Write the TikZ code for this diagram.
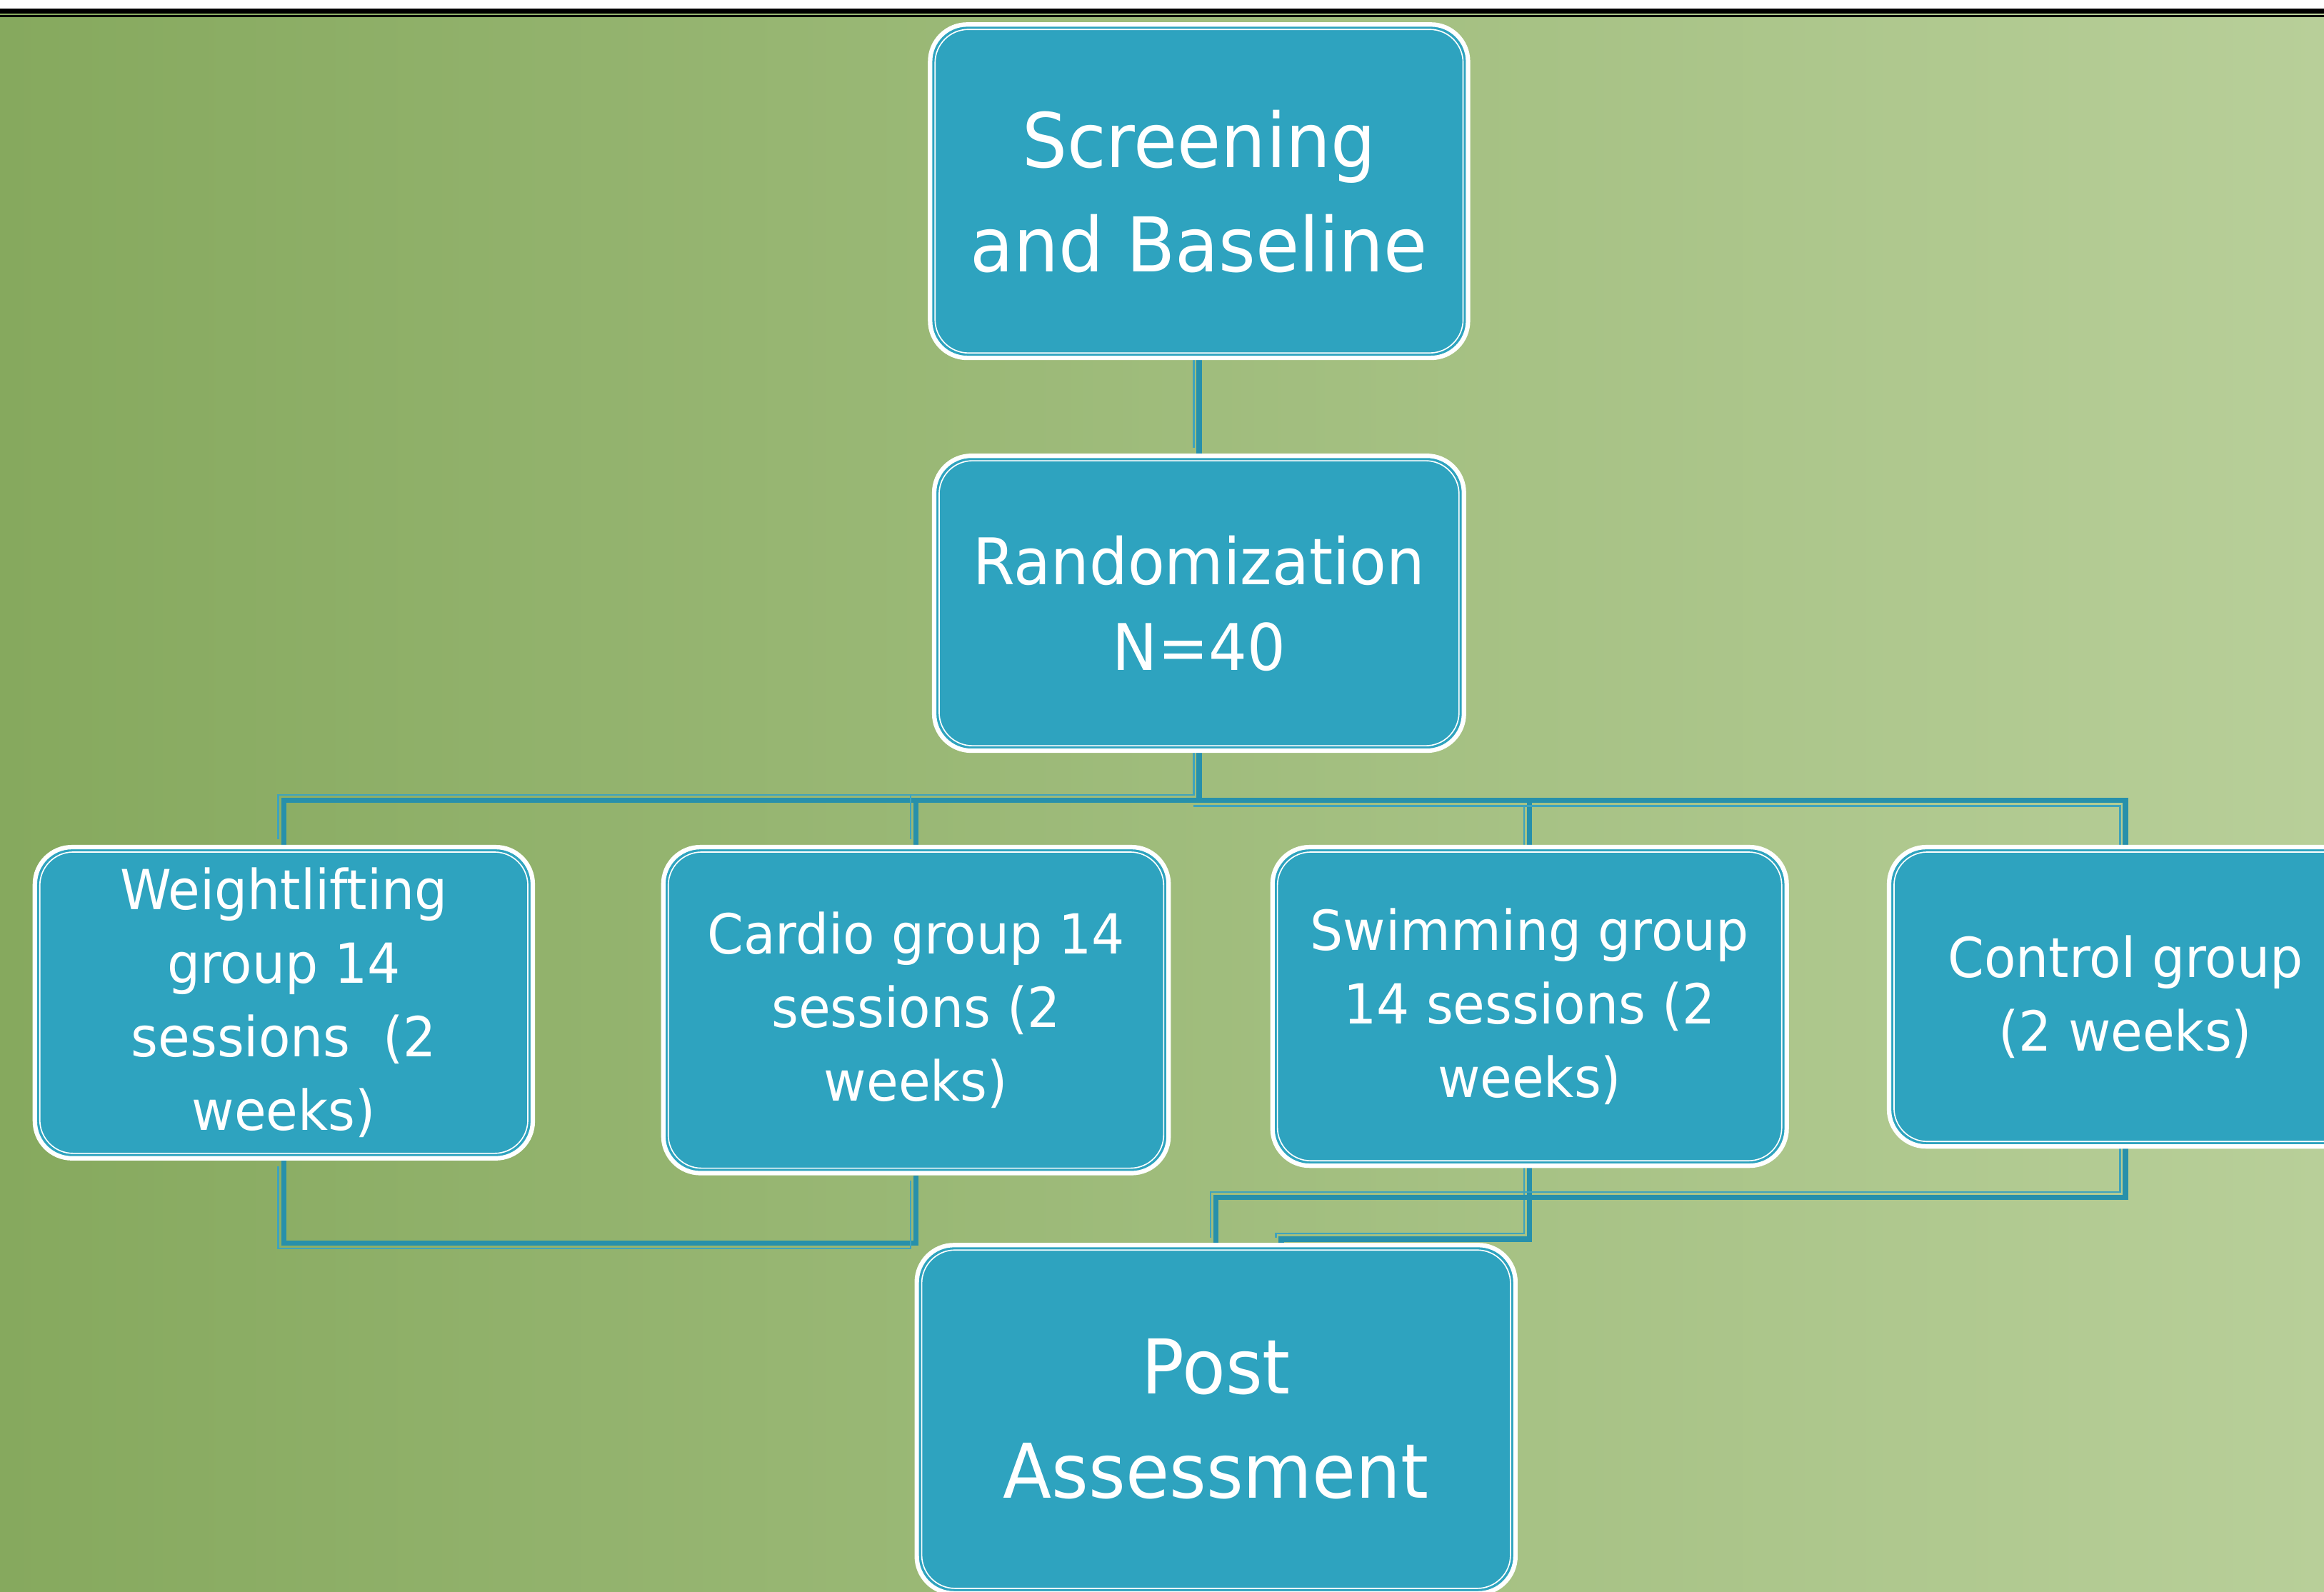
\documentclass[tikz,border=0pt]{standalone}
\usepackage{fontspec}
\setmainfont{DejaVu Sans}[FakeStretch=0.94]
\usetikzlibrary{positioning,backgrounds}

\definecolor{boxteal}{HTML}{2EA3BF}
\definecolor{linkteal}{HTML}{2790AB}
\definecolor{linklight}{HTML}{3FA3BC}
\definecolor{bgleft}{HTML}{86A95E}
\definecolor{bgright}{HTML}{B8CF99}

\begin{document}
\begin{tikzpicture}[
    x=0.02cm, y=-0.02cm,
    stage/.style={rectangle,rounded corners=0.5cm,fill=boxteal,draw=white,
        line width=1.7pt,text=white,align=center,inner sep=0pt,
        path picture={\draw[white,line width=0.45pt,rounded corners=0.45cm]
            ([shift={(1.9pt,1.9pt)}]path picture bounding box.south west)
            rectangle
            ([shift={(-1.9pt,-1.9pt)}]path picture bounding box.north east);}},
    bigstage/.style={stage,font=\fontsize{29}{40}\selectfont},
    midstage/.style={stage,font=\fontsize{24.7}{33}\selectfont},
    group/.style={stage,font=\fontsize{21.2}{28.3}\selectfont},
    linkup/.style={draw=linkteal,line width=2pt,
        preaction={draw=linklight,line width=0.7pt,
            transform canvas={shift={(-2.1pt,2.1pt)}}}},
    linkdown/.style={draw=linkteal,line width=2pt,
        preaction={draw=linklight,line width=0.7pt,
            transform canvas={shift={(-2.1pt,-2.1pt)}}}},
]
\useasboundingbox (0,0) rectangle (1568,1074);

% =====================================================
% Top of the flow : screening and randomization
% =====================================================

\node[bigstage,minimum width=7.26cm,minimum height=4.5cm] (scr) at (809,129)
    {Screening\\and Baseline};

\node[midstage,minimum width=7.15cm,minimum height=3.98cm] (rand) at (809,407)
    {Randomization\\N=40};

% =====================================================
% The four groups
% =====================================================

\node[group,minimum width=6.72cm,minimum height=4.2cm] (weight) at (191.5,676.5)
    {Weightlifting\\group 14\\sessions\ \ (2\\weeks)};

\node[group,minimum width=6.82cm,minimum height=4.4cm] (cardio) at (618,681.5)
    {Cardio group 14\\sessions (2\\weeks)};

\node[group,minimum width=6.94cm,minimum height=4.3cm] (swim) at (1032,679)
    {Swimming group\\14 sessions (2\\weeks)};

\node[group,minimum width=6.38cm,minimum height=4.04cm] (ctrl) at (1434,672.5)
    {Control group\\(2 weeks)};

% =====================================================
% End of the flow
% =====================================================

\node[bigstage,minimum width=8.08cm,minimum height=4.7cm] (post) at (820.5,957.5)
    {Post\\Assessment};

\coordinate (bus) at (809,540);

\begin{scope}[on background layer]
    \fill[white] (0,0) rectangle (1568,6);
    \shade[left color=bgleft,right color=bgright] (0,9) rectangle (1568,1074);
    \fill[black] (0,5.8) rectangle (1568,9.2);
    \fill[black] (0,10.1) rectangle (1568,11.6);

    \draw[linkup] (scr.south) -- (rand.north);

    \draw[linkup] (rand.south) -- (bus) -| (weight.north);
    \draw[linkup] (bus) -| (cardio.north);
    \draw[linkdown] (bus) -| (swim.north);
    \draw[linkdown] (bus) -| (ctrl.north);

    \draw[linkdown] (weight.south) |- (post.north west);
    \draw[linkdown] (cardio.south) |- (post.north west);
    \draw[linkup] (swim.south) -- ++(0,48) -| ([xshift=0.88cm]post.north);
    \draw[linkup] (ctrl.south) -- ++(0,33) -| (post.north);
\end{scope}

\end{tikzpicture}
\end{document}
